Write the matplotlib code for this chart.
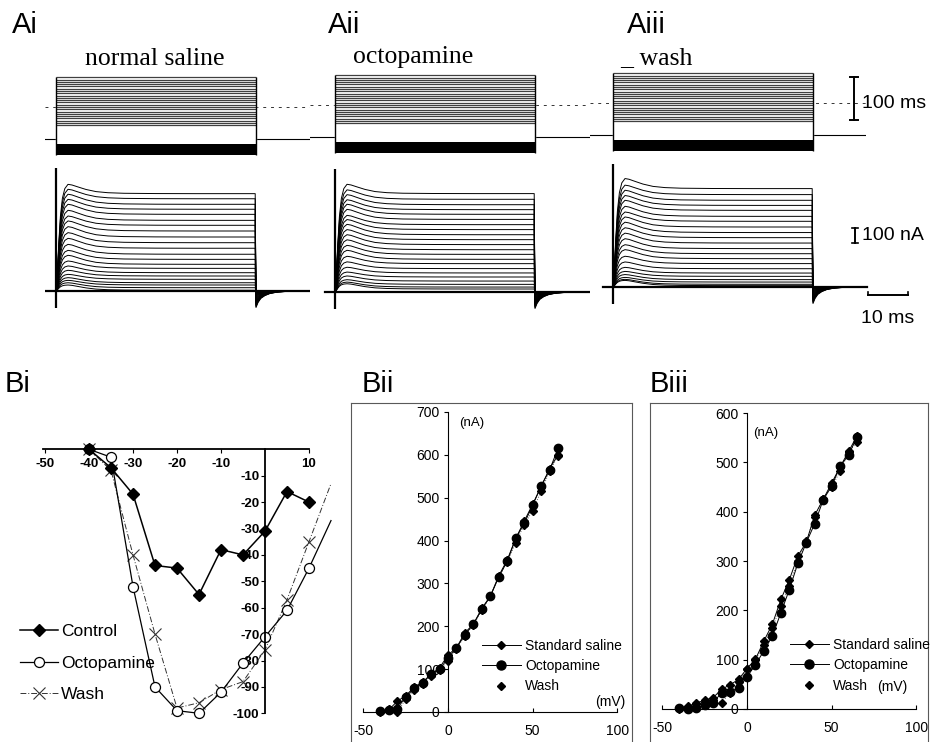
import numpy as np
import matplotlib.pyplot as plt
from matplotlib.lines import Line2D

plt.rcParams['font.family'] = ['Liberation Sans', 'DejaVu Sans']
plt.rcParams['axes.unicode_minus'] = False

W, H = 934, 742

# voltage steps (mV) used for the current families
STEPS = [-40, -35, -30, -25, -20, -15, -10, -5, 0, 5, 10, 15,
         20, 25, 30, 35, 40, 45, 50, 55, 60, 65]

# end-of-pulse and peak currents (nA) of each trace, panels Ai / Aii / Aiii
AI_STEADY = [5, 22, 40, 55, 78, 100, 122, 151, 178, 211, 245, 285, 322, 360, 400, 438, 471, 511, 545, 578, 615, 649]
AI_PEAK = [40, 55, 71, 89, 111, 138, 167, 200, 238, 271, 311, 351, 389, 429, 467, 500, 538, 578, 611, 645, 678, 711]
AII_STEADY = [20, 33, 51, 73, 100, 127, 156, 189, 218, 251, 282, 316, 349, 382, 416, 449, 484, 518, 549, 582, 618, 656]
AII_PEAK = [55, 66, 82, 107, 133, 165, 201, 238, 278, 311, 348, 382, 416, 451, 483, 511, 551, 585, 615, 649, 681, 718]
AIII_STEADY = [9, 18, 33, 49, 71, 93, 122, 156, 189, 222, 256, 293, 329, 363, 400, 438, 471, 511, 544, 578, 616, 656]
AIII_PEAK = [44, 51, 64, 83, 104, 131, 167, 205, 249, 282, 322, 359, 395, 432, 467, 500, 538, 578, 610, 645, 679, 723]

# time course (ms, fractions)
TRACE_T = [0.0, 0.3, 0.7, 1.1, 1.6, 2.2, 3.0, 4.0, 5.5, 7.5, 10.0, 13.0, 17.0, 25.0, 35.0, 49.8]
TRACE_ACT = [0.0, 0.15, 0.45, 0.70, 0.87, 0.96, 1.0, 1.0, 1.0, 1.0, 1.0, 1.0, 1.0, 1.0, 1.0, 1.0]
TRACE_INACT = [1.0, 1.0, 1.0, 1.0, 1.0, 1.0, 1.0, 0.93, 0.72, 0.45, 0.22, 0.10, 0.04, 0.01, 0.0, 0.0]
TAIL_T = [50.0, 50.5, 51.2, 52.2, 53.5, 55.5, 58.0, 63.0]
TAIL_SHAPE = [-1.0, -0.7, -0.45, -0.28, -0.15, -0.06, -0.02, 0.0]
TAIL_MAX = 110

# Bi: peak transient current difference (nA) vs step (mV)
BI_V = [-40, -35, -30, -25, -20, -15, -10, -5, 0, 5, 10, 15]
BI_CONTROL = [0, -7, -17, -44, -45, -55, -38, -40, -31, -16, -20]
BI_OCTO = [0, -3, -52, -90, -99, -100, -92, -81, -71, -61, -45, -27]
BI_WASH = [0, -8, -40, -70, -98, -96, -91, -88, -76, -57, -35, -13]

# Bii / Biii: I-V relations (nA)
BII_STD = [2, 5, 25, 38, 58, 70, 88, 103, 133, 150, 185, 205, 242, 270, 318, 355, 405, 445, 485, 525, 568, 600]
BII_OCTO = [2, 5, 8, 35, 55, 68, 88, 100, 125, 150, 180, 205, 240, 270, 315, 352, 405, 440, 482, 528, 565, 615]
BII_WASH = [0, 8, 0, 30, 52, 65, 85, 98, 120, 148, 178, 203, 238, 270, 316, 350, 395, 437, 470, 515, 562, 598]
BIII_STD = [3, 5, 12, 18, 23, 40, 49, 60, 82, 101, 138, 172, 222, 262, 310, 338, 393, 425, 458, 491, 522, 554]
BIII_OCTO = [2, 1, 2, 8, 13, 33, 35, 43, 65, 90, 118, 148, 195, 242, 295, 337, 376, 424, 452, 492, 515, 552]
BIII_WASH = [0, 6, 10, 15, 18, 13, 33, 55, 82, 100, 130, 165, 208, 250, 300, 340, 390, 426, 450, 482, 520, 542]

fig = plt.figure(figsize=(W / 100, H / 100), dpi=100)


def place(x0, sx, xlim, y0, sy, ylim):
    # axes whose data origin sits at pixel (x0, y0) with sx, sy px per unit
    left = x0 + xlim[0] * sx
    width = (xlim[1] - xlim[0]) * sx
    top = y0 - ylim[1] * sy
    height = (ylim[1] - ylim[0]) * sy
    ax = fig.add_axes([left / W, 1 - (top + height) / H, width / W, height / H])
    ax.set_xlim(xlim)
    ax.set_ylim(ylim)
    ax.patch.set_alpha(0)
    return ax


def voltage_panel(x0, y0, xlim):
    ax = place(x0, 4.0, xlim, y0, 0.457, (-118, 82))
    ax.axis('off')
    ax.plot(xlim, [0, 0], color='0.2', lw=0.7, ls=(0, (3, 5)), zorder=1)
    ax.plot(xlim, [-70, -70], color='k', lw=0.8, zorder=1)
    ax.fill_between([0, 50], -104, 66, color='white', zorder=2)
    ax.hlines(STEPS, 0, 50, color='0.25', lw=0.9, zorder=3)
    ax.fill_between([0, 50], -104, -82, color='k', lw=0, zorder=3)
    ax.vlines([0, 50], -104, 65, color='k', lw=1.0, zorder=3)
    return ax


def current_panel(x0, y0, xlim, steady, peak):
    ax = place(x0, 4.0, xlim, y0, 0.15, (-170, 870))
    ax.axis('off')
    act = np.array(TRACE_ACT)
    inact = np.array(TRACE_INACT)
    for s, p in zip(steady, peak):
        y = act * (s + (p - s) * inact)
        tail = np.array(TAIL_SHAPE) * TAIL_MAX * s / max(steady)
        ax.plot(TRACE_T + TAIL_T, np.concatenate([y, tail]), color='k', lw=0.7)
    ax.plot([-2.5, 63.5], [0, 0], color='k', lw=1.6)
    ax.vlines(0, -115, 820, color='k', lw=1.6)
    return ax


# ---- row A -------------------------------------------------------------
va1 = voltage_panel(56, 107, (-2.75, 63.5))
va2 = voltage_panel(335, 105, (-6.25, 63.75))
va3 = voltage_panel(613, 103, (-5.75, 63.25))

va1.text(24.75, 106, 'normal saline', family='Liberation Serif', fontsize=18.5,
         ha='center', va='center')
va2.text(19.5, 106, 'octopamine', family='Liberation Serif', fontsize=18.5,
         ha='center', va='center')
va3.text(10.75, 99, '_ wash', family='Liberation Serif', fontsize=18.5,
         ha='center', va='center')

# 100 mV scale bar
va3.plot([60.25, 60.25], [57, -37], color='k', lw=1.4, clip_on=False)
va3.plot([59.25, 61.25], [57, 57], color='k', lw=1.4, clip_on=False)
va3.plot([59.25, 61.25], [-37, -37], color='k', lw=1.4, clip_on=False)
va3.text(62.2, 0, '100 ms', fontsize=14, va='center', ha='left')

ca1 = current_panel(56, 291, (-2.75, 63.5), AI_STEADY, AI_PEAK)
ca2 = current_panel(335, 292, (-6.25, 63.75), AII_STEADY, AII_PEAK)
ca3 = current_panel(613, 287, (-5.75, 78), AIII_STEADY, AIII_PEAK)

ca3.plot([60.5, 60.5], [291, 391], color='k', lw=1.4, clip_on=False)
ca3.plot([59.8, 61.2], [291, 291], color='k', lw=1.2, clip_on=False)
ca3.plot([59.8, 61.2], [391, 391], color='k', lw=1.2, clip_on=False)
ca3.text(62.2, 341, '100 nA', fontsize=14, va='center', ha='left')
ca3.plot([63.75, 73.75], [-55, -55], color='k', lw=1.4, clip_on=False)
ca3.plot([63.75, 63.75], [-55, -30], color='k', lw=1.2, clip_on=False)
ca3.plot([73.75, 73.75], [-55, -30], color='k', lw=1.2, clip_on=False)
ca3.text(68.75, -207, '10 ms', fontsize=14, va='center', ha='center', clip_on=False)

for x, lab in [(12, 'Ai'), (328, 'Aii'), (627, 'Aiii')]:
    fig.text(x / W, 1 - 25 / H, lab, fontsize=21, va='center', ha='left')

# ---- Bi ------------------------------------------------------------------
ax = place(265, 4.4, (-50.5, 15.2), 449.3, 2.64, (-105, 4))
for side in ['top', 'right']:
    ax.spines[side].set_visible(False)
ax.spines['left'].set_position(('data', 0))
ax.spines['bottom'].set_position(('data', 0))
ax.spines['left'].set_bounds(-100, 0)
ax.spines['bottom'].set_bounds(-50.5, 10)
ax.spines['left'].set_linewidth(1.3)
ax.spines['bottom'].set_linewidth(1.3)
ax.set_xticks([-50, -40, -30, -20, -10, 10])
ax.set_yticks([-10, -20, -30, -40, -50, -60, -70, -80, -90, -100])
ax.tick_params(axis='x', direction='out', length=3, pad=3, labelsize=9.5)
ax.tick_params(axis='y', direction='out', length=3, pad=1, labelsize=9.5)
for t in ax.get_xticklabels() + ax.get_yticklabels():
    t.set_fontweight('bold')

ax.plot(BI_V, BI_WASH, color='0.2', lw=0.7, ls=(0, (6, 2, 1, 2)),
        marker='x', ms=8, mew=0.8, markevery=list(range(11)), label='Wash')
ax.plot(BI_V, BI_OCTO, color='k', lw=0.9, marker='o', ms=7.2, mfc='white',
        mec='k', mew=0.9, markevery=list(range(11)), label='Octopamine')
ax.plot(BI_V[:11], BI_CONTROL, color='k', lw=1.1, marker='D', ms=6.5,
        label='Control')
h, l = ax.get_legend_handles_labels()
fig.legend(h[::-1], l[::-1], loc='upper left', bbox_to_anchor=(20 / W, 1 - 624 / H),
           frameon=False, fontsize=12.5, handlelength=2.2, handletextpad=0.15,
           labelspacing=0.95, borderpad=0, borderaxespad=0)
fig.text(5 / W, 1 - 384 / H, 'Bi', fontsize=21, va='center', ha='left')


# ---- Bii / Biii ----------------------------------------------------------
def iv_panel(frame_left, frame_right, y0, sy, ymax, std, octo, wash,
             nA_xy, mV_xy, leg_xy):
    frame = fig.add_axes([frame_left / W, -6 / H, (frame_right - frame_left) / W,
                          (742 + 6 - 403) / H])
    frame.set_xticks([])
    frame.set_yticks([])
    for sp in frame.spines.values():
        sp.set_linewidth(0.8)
        sp.set_color('0.35')
    x0 = frame_left + 97
    ax = place(x0, 1.6933, (-58, 108), y0, sy, (-70 * 0.4286 / sy, ymax + 35 * 0.4286 / sy))
    for side in ['top', 'right']:
        ax.spines[side].set_visible(False)
    ax.spines['left'].set_position(('data', 0))
    ax.spines['bottom'].set_position(('data', 0))
    ax.spines['left'].set_bounds(0, ymax)
    ax.spines['bottom'].set_bounds(-50, 100)
    ax.spines['left'].set_linewidth(0.8)
    ax.spines['bottom'].set_linewidth(0.8)
    ax.set_xticks([-50, 0, 50, 100])
    ax.set_yticks(list(range(0, ymax + 1, 100)))
    ax.tick_params(axis='x', direction='in', length=3, pad=9, labelsize=10)
    ax.tick_params(axis='y', direction='out', length=3, pad=3, labelsize=10)
    ax.plot(STEPS, wash, color='0.35', lw=0.7, ls=':', marker='D', ms=4.5,
            mec='k', mfc='k')
    ax.plot(STEPS, octo, color='k', lw=0.7, marker='o', ms=6, mfc='k')
    ax.plot(STEPS, std, color='k', lw=0.7, marker='D', ms=4.5, mfc='k')
    ax.text(nA_xy[0], nA_xy[1], '(nA)', fontsize=9.5, ha='center', va='center')
    ax.text(mV_xy[0], mV_xy[1], '(mV)', fontsize=10, ha='center', va='center')
    handles = [Line2D([], [], color='k', lw=0.7, marker='D', ms=4.5),
               Line2D([], [], color='k', lw=0.7, marker='o', ms=6.5),
               Line2D([], [], ls='none', color='k', marker='D', ms=4.5)]
    fig.legend(handles, ['Standard saline', 'Octopamine', 'Wash'], loc='upper left',
               bbox_to_anchor=(leg_xy[0] / W, 1 - leg_xy[1] / H), frameon=False,
               fontsize=10, handlelength=2.8, handletextpad=0.3, labelspacing=0.45,
               borderpad=0, borderaxespad=0)
    return ax


iv_panel(351, 632, 712, 0.4286, 700, BII_STD, BII_OCTO, BII_WASH,
         (14.2, 674), (95.7, 23), (482, 639))
iv_panel(650, 928, 709, 0.4933, 600, BIII_STD, BIII_OCTO, BIII_WASH,
         (11.2, 560), (85.6, 45), (790, 638))
fig.text(362 / W, 1 - 384 / H, 'Bii', fontsize=21, va='center', ha='left')
fig.text(650 / W, 1 - 384 / H, 'Biii', fontsize=21, va='center', ha='left')

fig.savefig('out.png', dpi=100, facecolor='white')
